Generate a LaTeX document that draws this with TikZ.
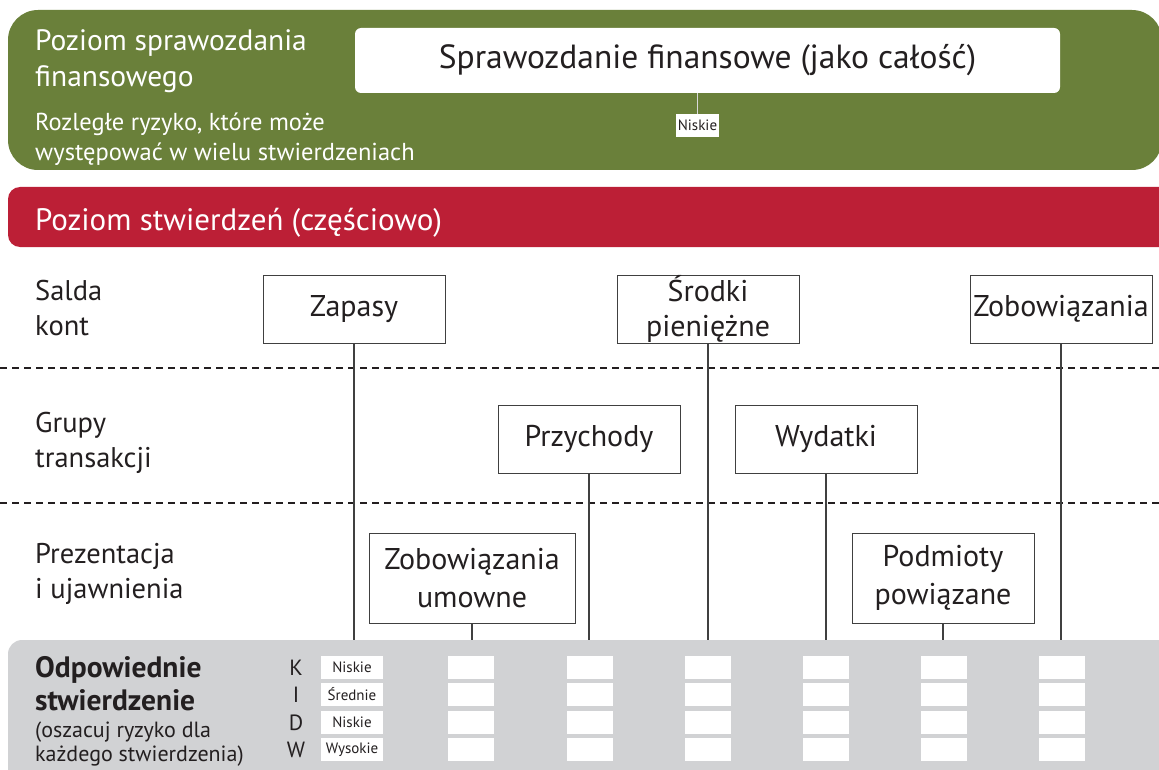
\documentclass[tikz,border=0pt]{standalone}
\usepackage{fontspec}
\setmainfont{PT Sans}
\newcommand\fsz[2]{\fontsize{#1}{#2}\selectfont}
\definecolor{levelgreen}{HTML}{6A803A}
\definecolor{levelred}{HTML}{BC1F36}
\definecolor{panelgray}{HTML}{D1D2D4}
\definecolor{inkgray}{HTML}{231F20}
\definecolor{wiregray}{HTML}{404040}
\begin{document}
\begin{tikzpicture}[x=1pt,y=-1pt,
  % multi-line texts are placed by the baseline of their last line
  headtext/.style={anchor=base west, align=left, inner sep=0pt, text=white},
  rowtext/.style={anchor=base west, align=left, inner sep=0pt, text=inkgray, font=\fsz{28.5}{34.5}},
  itembox/.style={draw=wiregray, line width=1pt, fill=white, text=inkgray,
    align=center, inner sep=0pt, font=\fsz{30}{35}},
  link/.style={draw=wiregray, line width=1.3pt},
  divider/.style={draw=inkgray, line width=1.6pt, dash pattern=on 7pt off 5pt},
  cell/.style={fill=white, minimum width=46pt, minimum height=23pt, inner sep=0pt},
  tag/.style={fill=white, minimum width=43pt, minimum height=23pt, inner sep=0pt,
    text=inkgray, font=\fsz{15}{17}},
  letter/.style={text=inkgray, font=\fsz{22}{24}, inner sep=0pt}
]
\useasboundingbox (0,0) rectangle (1159,770);

% --- financial statement level ---
\fill[levelgreen, rounded corners=30pt] (8,10) rectangle (1162,170);
\node[headtext, font=\fsz{29.5}{36}] (fslevel) at (35,87) {Poziom sprawozdania\\finansowego};
\node[headtext, font=\fsz{24.5}{30}] (fsrisk) at (35,161) {Rozległe ryzyko, które może\\występować w wielu stwierdzeniach};
\node[draw=none, fill=white, rounded corners=6pt, minimum width=705pt, minimum height=65pt,
  text=inkgray, font=\fsz{33.5}{38}, inner sep=0pt] (fs) at (707.5,60.5) {Sprawozdanie finansowe (jako całość)};
\node[tag] (fsrate) at (697.5,125.5) {Niskie};
\draw[white!85!black, line width=1pt] (fsrate.north) -- (fsrate.north |- fs.south);

% --- assertion level ---
\fill[levelred, rounded corners=12pt] (8,187) rectangle (1185,247);
\node[headtext, font=\fsz{31}{34}] (aslevel) at (35,230) {Poziom stwierdzeń (częściowo)};

% --- row labels and separators ---
\node[rowtext] (rowA) at (35,335) {Salda\\kont};
\node[rowtext] (rowB) at (35,467) {Grupy\\transakcji};
\node[rowtext] (rowC) at (35,598) {Prezentacja\\i ujawnienia};
\coordinate (sepAl) at (0,368); \coordinate (sepAr) at (1159,368);
\coordinate (sepBl) at (0,503); \coordinate (sepBr) at (1159,503);
\draw[divider] (sepAl) -- (sepAr);
\draw[divider] (sepBl) -- (sepBr);

% --- bottom panel ---
\fill[panelgray, rounded corners=14pt] (8,640) rectangle (1185,800);
\node[anchor=base west, align=left, inner sep=0pt, text=inkgray, font=\bfseries\fsz{29.5}{33}] (assert) at (35,710) {Odpowiednie\\stwierdzenie};
\node[anchor=base west, align=left, inner sep=0pt, text=inkgray, font=\fsz{22}{24}] (assertnote) at (35,761) {(oszacuj ryzyko dla\\każdego stwierdzenia)};

% column anchors on the top edge of the panel
\foreach \i/\x in {1/354,2/472,3/589,4/708,5/826,6/943,7/1061}
  \coordinate (col\i) at (\x,640);

% --- account balance items ---
\node[itembox, minimum width=182pt, minimum height=68pt] (inv) at (354,309) {Zapasy};
\node[itembox, minimum width=182pt, minimum height=68pt] (cash) at (708,309) {Środki\\pieniężne};
\node[itembox, minimum width=182pt, minimum height=68pt] (liab) at (1061,309) {Zobowiązania};
% --- transaction classes ---
\node[itembox, minimum width=182pt, minimum height=68pt] (rev) at (589,439) {Przychody};
\node[itembox, minimum width=182pt, minimum height=68pt] (exp) at (826,439) {Wydatki};
% --- presentation and disclosure ---
\node[itembox, minimum width=206pt, minimum height=90pt, font=\fsz{30}{38}] (contr) at (472,578) {Zobowiązania\\umowne};
\node[itembox, minimum width=182pt, minimum height=90pt, font=\fsz{30}{38}] (relp) at (943,578) {Podmioty\\powiązane};

\draw[link] (inv.south) -- (col1);
\draw[link] (contr.south) -- (col2);
\draw[link] (rev.south) -- (col3);
\draw[link] (cash.south) -- (col4);
\draw[link] (exp.south) -- (col5);
\draw[link] (relp.south) -- (col6);
\draw[link] (liab.south) -- (col7);

% --- assertion letters ---
\foreach \r/\l/\y in {1/K/667.5,2/I/694.5,3/D/722.5,4/W/749.5}
  \node[letter] (let\r) at (296,\y) {\l};

% --- rating cells ---
\node[tag, minimum width=62pt] (r11) at (352,667.5) {Niskie};
\node[tag, minimum width=62pt] (r12) at (352,694.5) {Średnie};
\node[tag, minimum width=62pt] (r13) at (352,722.5) {Niskie};
\node[tag, minimum width=62pt] (r14) at (352,749.5) {Wysokie};
\foreach \c/\x in {2/471,3/589.5,4/707.5,5/825.5,6/943.5,7/1062}
  \foreach \r/\y in {1/667.5,2/694.5,3/722.5,4/749.5}
    \node[cell] (r\c\r) at (\x,\y) {};
\end{tikzpicture}
\end{document}
